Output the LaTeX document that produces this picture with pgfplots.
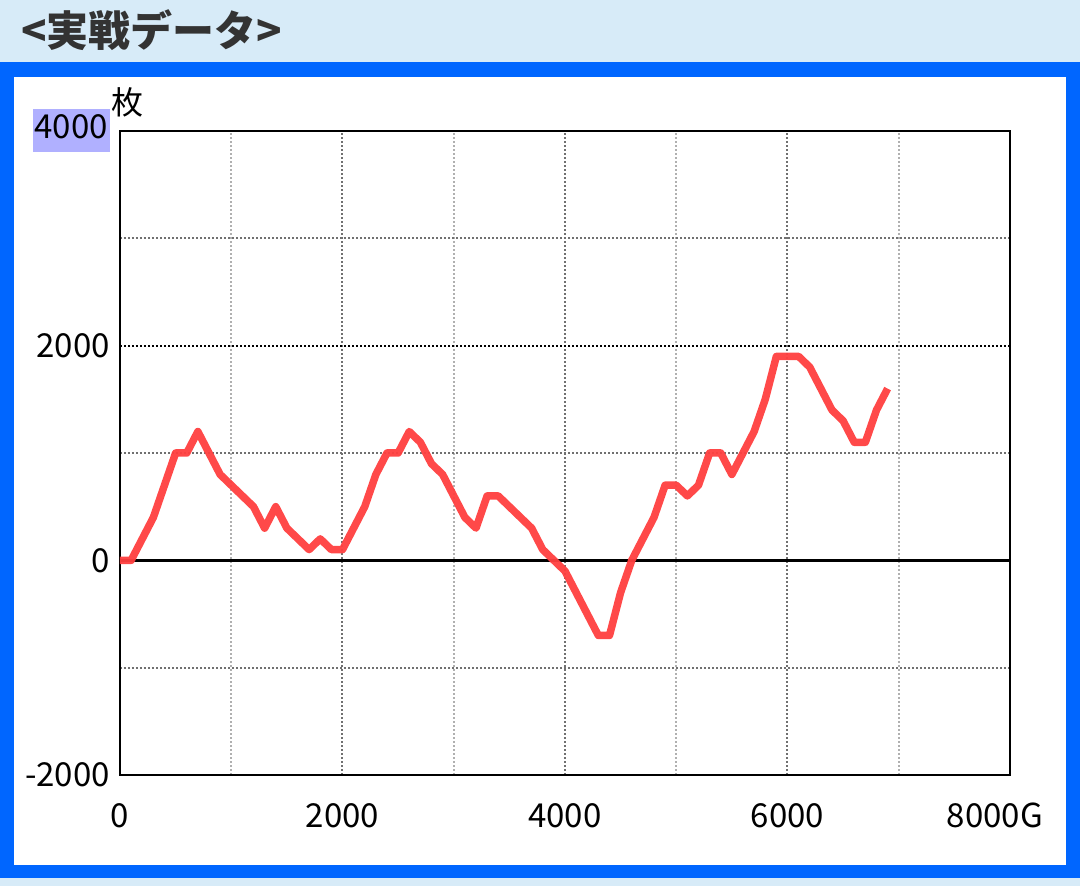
\documentclass[border=0pt]{standalone}
\usepackage{pgfplots}
\pgfplotsset{compat=1.18}
\usepackage{fontspec}
\setmainfont{Noto Sans CJK JP}
\definecolor{bglight}{HTML}{D7EBF8}
\definecolor{frameblue}{HTML}{0066FF}
\definecolor{titlegray}{HTML}{333333}
\definecolor{hl}{HTML}{B0B0FF}
\definecolor{linered}{HTML}{FF4040}
\definecolor{gdark}{HTML}{707070}
\definecolor{glight}{HTML}{B0B0B0}
\begin{document}
\begin{tikzpicture}[x=1pt,y=1pt]
\useasboundingbox (0,0) rectangle (1080,886);
\fill[bglight] (0,0) rectangle (1080,886);
\fill[frameblue] (0,8) rectangle (1080,824);
\fill[white] (14,21) rectangle (1066,809);
\node[anchor=west, inner sep=0pt, text=titlegray, font=\fontsize{42}{50}\selectfont\bfseries] at (21,856) {<実戦データ>};
\node[inner sep=0pt, font=\fontsize{32}{38}\selectfont] at (127,784) {枚};
\begin{axis}[
  at={(120pt,111pt)}, anchor=south west,
  scale only axis, width=890pt, height=644pt,
  xmin=0, xmax=8000, ymin=-2000, ymax=4000,
  xtick={0,2000,4000,6000,8000},
  xticklabels={0,2000,4000,6000,{\hspace*{-30pt}8000G}},
  minor xtick={1000,3000,5000,7000},
  ytick={-2000,0,2000,4000},
  yticklabels={-2000,0,2000,{\setlength{\fboxsep}{2pt}\colorbox{hl}{\strut 4000}}},
  minor ytick={-1000,1000,3000},
  major tick length=0pt, minor tick length=0pt,
  grid=both,
  major x grid style={gdark, line width=2pt, dash pattern=on 2pt off 2pt},
  minor x grid style={glight, line width=2pt, dash pattern=on 2pt off 2pt},
  major y grid style={black, line width=2pt, dash pattern=on 2pt off 2pt},
  minor y grid style={gdark, line width=2pt, dash pattern=on 2pt off 2pt},
  axis line style={black, line width=2pt},
  tick label style={font=\fontsize{33}{39}\selectfont, inner sep=0pt},
  xticklabel style={yshift=-28pt},
  yticklabel style={xshift=-10pt},
]
\addplot[black, line width=3pt] coordinates {(0,0) (8000,0)};
\addplot[linered, line width=7.5pt, line join=round, opacity=0.95] coordinates {
(0,0)(100,0)(300,400)(500,1000)(600,1000)(700,1200)(900,800)(1200,500)(1300,300)(1400,500)(1500,300)(1700,100)(1800,200)(1900,100)(2000,100)(2200,500)(2300,800)(2400,1000)(2500,1000)(2600,1200)(2700,1100)(2800,900)(2900,800)(3100,400)(3200,300)(3300,600)(3400,600)(3600,400)(3700,300)(3800,100)(4000,-100)(4300,-700)(4400,-700)(4500,-300)(4600,0)(4800,400)(4900,700)(5000,700)(5100,600)(5200,700)(5300,1000)(5400,1000)(5500,800)(5600,1000)(5700,1200)(5800,1500)(5900,1900)(6100,1900)(6200,1800)(6300,1600)(6400,1400)(6500,1300)(6600,1100)(6700,1100)(6800,1400)(6900,1600)
};
\end{axis}
\end{tikzpicture}
\end{document}
